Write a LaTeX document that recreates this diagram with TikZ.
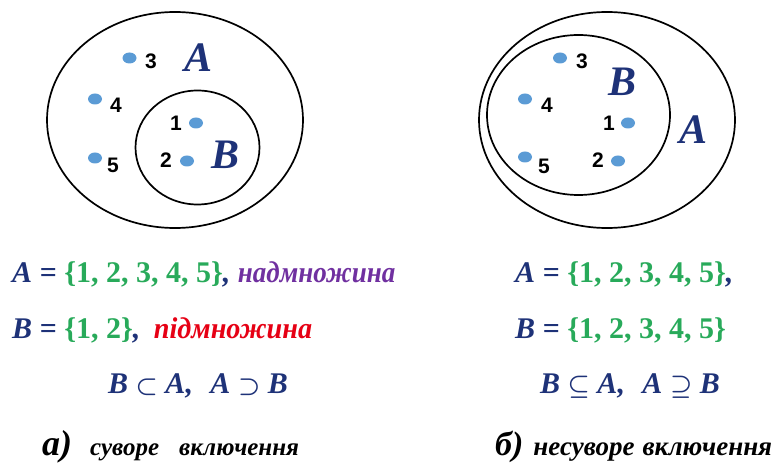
\documentclass[tikz,border=0pt]{standalone}
\usepackage{fontspec}
\setmainfont{Liberation Serif}
\newfontfamily\narrowserif{Liberation Serif}[FakeStretch=0.9]
\newfontfamily\redserif{Liberation Serif}[FakeStretch=0.94]
\newfontfamily\numbold{Liberation Sans Bold}
\definecolor{navy}{RGB}{30,50,120}
\definecolor{setgreen}{RGB}{40,170,90}
\definecolor{setpurple}{RGB}{112,48,160}
\definecolor{setred}{RGB}{230,0,20}
\definecolor{dotblue}{RGB}{91,155,213}
\newcommand{\gr}[1]{\textcolor{setgreen}{\upshape #1}}
\begin{document}
\begin{tikzpicture}[x=1pt,y=-1pt,
  setline/.style={draw=black, line width=1.7pt},
  dotmark/.style={fill=dotblue},
  num/.style={font=\numbold\fontsize{21}{21}\selectfont, inner sep=0pt},
  setname/.style={font=\bfseries\itshape\fontsize{42}{42}\selectfont, text=navy, inner sep=0pt},
  formula/.style={font=\bfseries\itshape\fontsize{30}{30}\selectfont, text=navy, inner sep=0pt, anchor=base west},
  caption/.style={font=\bfseries\itshape, text=black, inner sep=0pt, anchor=base west}]
\useasboundingbox (0,0) rectangle (774,465);
% ---------- left diagram ----------
\draw[setline] (175,120) ellipse [x radius=128pt, y radius=108pt];
\draw[setline] (197.5,147.5) ellipse [x radius=62pt, y radius=57pt];
\fill[dotmark] (129.5,58) ellipse [x radius=7pt, y radius=5.5pt];
\fill[dotmark] (95,99) ellipse [x radius=7pt, y radius=5.5pt];
\fill[dotmark] (95,158) ellipse [x radius=7pt, y radius=5.5pt];
\fill[dotmark] (196,123) ellipse [x radius=7pt, y radius=5.5pt];
\fill[dotmark] (187,161) ellipse [x radius=7pt, y radius=5.5pt];
\node[num] (l3) at (151,61) {3};
\node[num] (l4) at (116,105) {4};
\node[num] (l5) at (113,165) {5};
\node[num] (l1) at (176,123) {1};
\node[num] (l2) at (166,160) {2};
\node[setname] (lA) at (199,58) {A};
\node[setname] (lB) at (226,155) {B};
% ---------- right diagram ----------
\draw[setline] (607,120) ellipse [x radius=128pt, y radius=108pt];
\draw[setline] (578.5,115) ellipse [x radius=91.5pt, y radius=80pt];
\fill[dotmark] (560,58) ellipse [x radius=7pt, y radius=5.5pt];
\fill[dotmark] (525,99) ellipse [x radius=7pt, y radius=5.5pt];
\fill[dotmark] (525,157) ellipse [x radius=7pt, y radius=5.5pt];
\fill[dotmark] (628,123) ellipse [x radius=7pt, y radius=5.5pt];
\fill[dotmark] (618,161) ellipse [x radius=7pt, y radius=5.5pt];
\node[num] (r3) at (582,61) {3};
\node[num] (r4) at (547,105) {4};
\node[num] (r5) at (544,166) {5};
\node[num] (r1) at (609,123) {1};
\node[num] (r2) at (598,160) {2};
\node[setname] (rB) at (623,82) {B};
\node[setname] (rA) at (693,130) {A};
% ---------- left formulas ----------
\node[formula] (fa1) at (12,283) {A = \gr{\{1, 2, 3, 4, 5\}}, \textcolor{setpurple}{\narrowserif\bfseries\itshape надмножина}};
\node[formula] (fa2) at (12,338) {B = \gr{\{1, 2\}},\hspace{6pt} \textcolor{setred}{\redserif\bfseries\itshape підмножина}};
\node[formula, anchor=base] (fa3) at (198,393) {B {\boldmath$\subset$} A,\hspace{10pt} A {\boldmath$\supset$} B};
\node[caption] (ca) at (42,455) {{\fontsize{36}{36}\selectfont а)}\hspace{18pt}{\fontsize{25}{25}\selectfont суворе\hspace{20pt}включення}};
% ---------- right formulas ----------
\node[formula] (fb1) at (515,283) {A = \gr{\{1, 2, 3, 4, 5\}},};
\node[formula] (fb2) at (515,338) {B = \gr{\{1, 2, 3, 4, 5\}}};
\node[formula, anchor=base] (fb3) at (630,393) {B {\boldmath$\subseteq$} A,\hspace{10pt} A {\boldmath$\supseteq$} B};
\node[caption] (cb) at (495,455) {{\fontsize{34}{34}\selectfont б)}\hspace{10pt}{\fontsize{27}{27}\selectfont несуворе\hspace{8pt}включення}};
\end{tikzpicture}
\end{document}
